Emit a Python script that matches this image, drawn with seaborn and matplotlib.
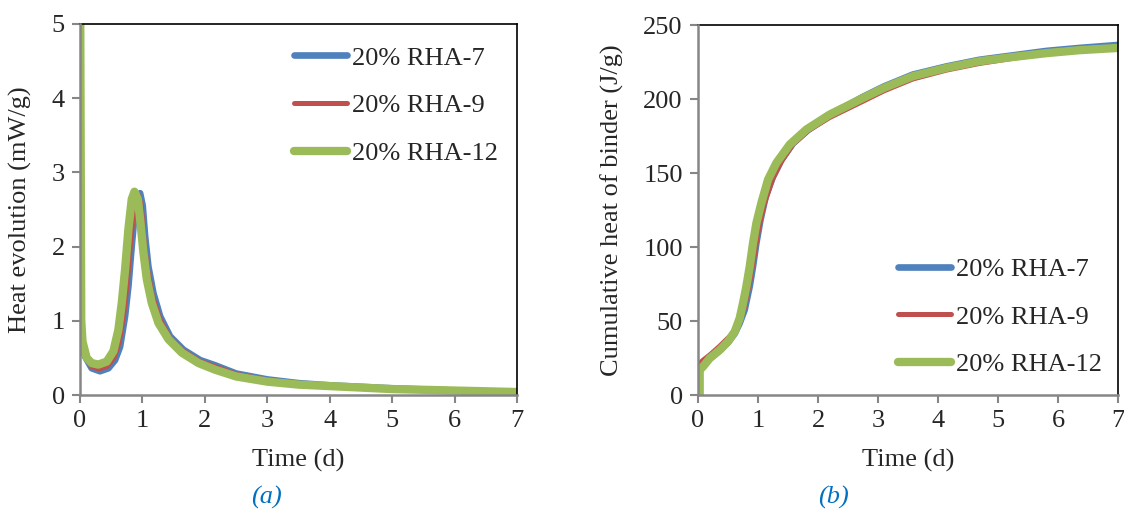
import matplotlib
matplotlib.use('Agg')
import matplotlib.pyplot as plt
import seaborn as sns
import pandas as pd

# ---- data ----
series_names = ['20% RHA-7', '20% RHA-9', '20% RHA-12']
series_colors = ['#4F81BD', '#C0504D', '#9BBB59']
series_widths = [4.8, 3.6, 6.0]

# (a) heat evolution, mW/g
flow_t_7 = [0, 0.02, 0.04, 0.08, 0.187, 0.32, 0.455, 0.562, 0.642, 0.722, 0.776, 0.829, 0.883,
            0.926, 0.963, 1.005, 1.043, 1.096, 1.177, 1.284, 1.444, 1.658, 1.926, 2.167, 2.5,
            3.0, 3.5, 4.0, 5.0, 6.0, 7.0]
flow_v_7 = [6.0, 0.95, 0.66, 0.52, 0.36, 0.32, 0.36, 0.47, 0.65, 1.06, 1.47, 2.01, 2.51,
            2.69, 2.72, 2.55, 2.14, 1.73, 1.37, 1.06, 0.79, 0.61, 0.47, 0.40, 0.29,
            0.21, 0.16, 0.13, 0.09, 0.06, 0.04]
flow_t_9 = [0, 0.02, 0.04, 0.09, 0.187, 0.31, 0.44, 0.55, 0.63, 0.70, 0.755, 0.81, 0.865,
            0.91, 0.945, 0.985, 1.025, 1.08, 1.16, 1.27, 1.43, 1.645, 1.91, 2.167, 2.5,
            3.0, 3.5, 4.0, 5.0, 6.0, 7.0]
flow_v_9 = [6.0, 0.97, 0.68, 0.51, 0.38, 0.35, 0.39, 0.51, 0.72, 1.08, 1.50, 2.05, 2.50,
            2.66, 2.68, 2.52, 2.10, 1.70, 1.34, 1.04, 0.78, 0.60, 0.46, 0.38, 0.28,
            0.20, 0.15, 0.12, 0.085, 0.06, 0.04]
flow_t_12 = [0, 0.02, 0.04, 0.107, 0.187, 0.294, 0.428, 0.535, 0.615, 0.669, 0.722, 0.776,
             0.829, 0.872, 0.926, 0.963, 1.016, 1.07, 1.15, 1.257, 1.418, 1.632, 1.899, 2.167,
             2.5, 3.0, 3.5, 4.0, 5.0, 6.0, 7.0]
flow_v_12 = [6.0, 1.0, 0.72, 0.50, 0.43, 0.41, 0.45, 0.59, 0.88, 1.24, 1.69, 2.24,
             2.64, 2.74, 2.64, 2.37, 1.92, 1.56, 1.24, 0.97, 0.75, 0.57, 0.43, 0.34,
             0.25, 0.18, 0.14, 0.12, 0.08, 0.06, 0.04]

# (b) cumulative heat, J/g
cum_t_7 = [0, 0.084, 0.195, 0.362, 0.5, 0.612, 0.695, 0.778, 0.862, 0.917, 0.973, 1.04, 1.128,
           1.25, 1.39, 1.584, 1.834, 2.195, 2.75, 3.1, 3.58, 4.14, 4.69, 5.25, 5.81, 6.36, 7.0]
cum_v_7 = [18, 20, 24.5, 30, 35.5, 41.5, 48.5, 57.5, 73.3, 86.8, 102.6, 118, 133.9,
           147.5, 158.8, 170, 179, 189, 201.5, 208.5, 216.5, 222, 226.5, 229.5, 232.5, 234.5, 236.5]
cum_t_9 = [0, 0.084, 0.195, 0.362, 0.528, 0.612, 0.695, 0.778, 0.862, 0.945, 1.017, 1.11,
           1.239, 1.39, 1.584, 1.834, 2.195, 2.75, 3.1, 3.58, 4.14, 4.69, 5.25, 5.81, 6.36, 7.0]
cum_v_9 = [20.3, 23.5, 27, 33, 39.6, 43.5, 49.6, 59.7, 76.7, 95.9, 113.9, 129.7,
           145.5, 157.7, 169.5, 178.5, 187.5, 198.5, 205.5, 213.5, 219.5, 224, 227.5, 230.5, 232.5, 234]
cum_t_12 = [0.028, 0.028, 0.084, 0.195, 0.362, 0.5, 0.612, 0.695, 0.75, 0.806, 0.862, 0.917,
            0.973, 1.056, 1.167, 1.306, 1.528, 1.806, 2.195, 2.75, 3.1, 3.58, 4.14, 4.69, 5.25,
            5.81, 6.36, 7.0]
cum_v_12 = [0, 16.9, 19.2, 24.8, 30.4, 36.1, 42.8, 51.9, 62.0, 73.3, 86.8, 102.6,
            116.1, 129.7, 145.5, 156.8, 169.2, 179.4, 189.5, 200.7, 207.5, 215.4, 221, 225.5, 228.4,
            231, 233, 234.5]

x_ticks = [0, 1, 2, 3, 4, 5, 6, 7]
flow_ticks = [0, 1, 2, 3, 4, 5]
cum_ticks = [0, 50, 100, 150, 200, 250]

sns.set_style('white')
plt.rcParams['font.family'] = ['Liberation Serif', 'DejaVu Serif']
plt.rcParams['font.size'] = 19

fig = plt.figure(figsize=(11.24, 5.12), dpi=100)
ax1 = fig.add_axes([80 / 1124, 1 - 395 / 512, 437 / 1124, 371 / 512])
ax2 = fig.add_axes([698 / 1124, 1 - 395 / 512, 420 / 1124, 370 / 512])

flow = [(flow_t_7, flow_v_7), (flow_t_9, flow_v_9), (flow_t_12, flow_v_12)]
cum = [(cum_t_7, cum_v_7), (cum_t_9, cum_v_9), (cum_t_12, cum_v_12)]

for ax, data in [(ax1, flow), (ax2, cum)]:
    for (t, v), name, col, lw in zip(data, series_names, series_colors, series_widths):
        df = pd.DataFrame({'t': t, 'v': v})
        sns.lineplot(data=df, x='t', y='v', ax=ax, color=col, linewidth=lw,
                     label=name, sort=False, estimator=None,
                     solid_capstyle='round', solid_joinstyle='round')


def style_axes(ax, yticks, ylabel):
    ax.set_xlim(0, 7)
    ax.set_ylim(yticks[0], yticks[-1])
    ax.set_xticks(x_ticks)
    ax.set_yticks(yticks)
    ax.set_xlabel('Time (d)', fontsize=19, labelpad=12)
    ax.set_ylabel(ylabel, fontsize=19, labelpad=14)
    for side in ['top', 'right']:
        ax.spines[side].set_color('black')
        ax.spines[side].set_linewidth(1.2)
    for side in ['left', 'bottom']:
        ax.spines[side].set_color('#868686')
        ax.spines[side].set_linewidth(1.8)
        ax.spines[side].set_zorder(5)
    ax.tick_params(axis='both', direction='out', length=6, width=1.5, color='#868686',
                   labelsize=19, pad=5, left=True, bottom=True)


style_axes(ax1, flow_ticks, 'Heat evolution (mW/g)')
style_axes(ax2, cum_ticks, 'Cumulative heat of binder (J/g)')

ax1.legend(loc='upper left', bbox_to_anchor=(0.49, 0.94), frameon=False, fontsize=19,
           handlelength=2.0, handletextpad=0.2, labelspacing=0.92, borderpad=0, borderaxespad=0)
ax2.legend(loc='upper left', bbox_to_anchor=(0.477, 0.372), frameon=False, fontsize=19,
           handlelength=2.0, handletextpad=0.2, labelspacing=0.92, borderpad=0, borderaxespad=0)

fig.text(266 / 1124, 1 - 497 / 512, '(a)', color='#0070C0', style='italic',
         fontsize=19, ha='center', va='center')
fig.text(833 / 1124, 1 - 497 / 512, '(b)', color='#0070C0', style='italic',
         fontsize=19, ha='center', va='center')

fig.savefig('out.png', dpi=100)
